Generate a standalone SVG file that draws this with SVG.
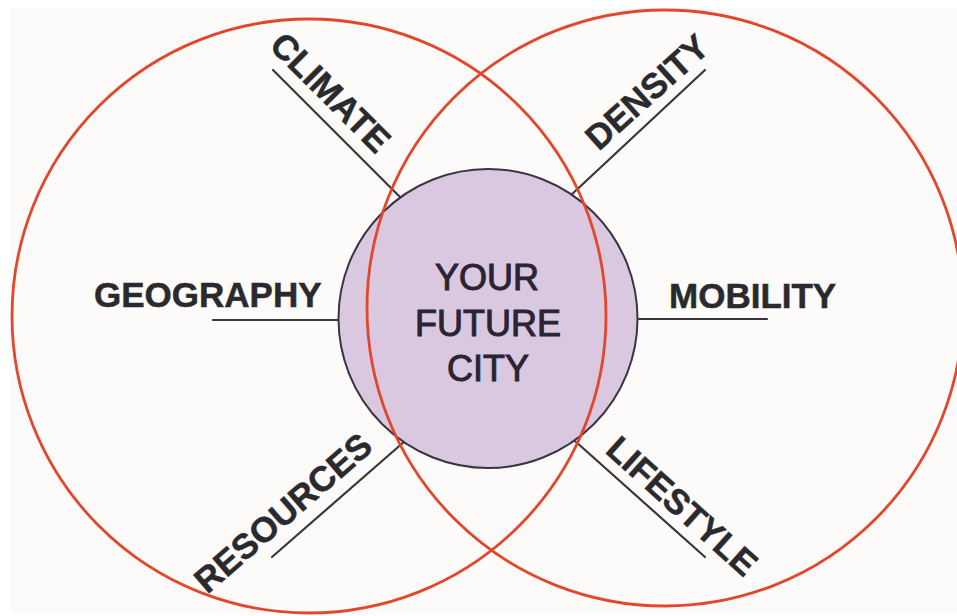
<svg xmlns="http://www.w3.org/2000/svg" width="957" height="616" viewBox="0 0 957 616">
  <style>
    .ring { fill: none; stroke: #e2472c; stroke-width: 2.8; }
    .conn { stroke: #38383c; stroke-width: 2.2; fill: none; stroke-linecap: round; }
    .lbl { font-family: "Liberation Sans", Arial, Helvetica, sans-serif; font-weight: bold; font-size: 35px; fill: #2a2a2e; stroke: #2a2a2e; stroke-width: 0.5; }
    .ctr { font-family: "Liberation Sans", Arial, Helvetica, sans-serif; font-size: 36px; fill: #2a2430; stroke: #2a2430; stroke-width: 1; text-anchor: middle; }
  </style>
  <rect x="0" y="0" width="957" height="616" fill="#ffffff"/>
  <rect x="10" y="9" width="947" height="605" fill="#fcfbf9"/>

  <g id="connectors">
    <line class="conn" x1="273" y1="70" x2="405" y2="202"/>
    <line class="conn" x1="705" y1="70" x2="570" y2="196"/>
    <line class="conn" x1="213" y1="320" x2="345" y2="320"/>
    <line class="conn" x1="767" y1="319" x2="632" y2="319"/>
    <line class="conn" x1="272" y1="557" x2="405" y2="441"/>
    <line class="conn" x1="705" y1="557" x2="575" y2="441"/>
  </g>

  <g id="center">
    <circle cx="488" cy="318.5" r="149.5" fill="#d9c8e0" stroke="#3a3540" stroke-width="2"/>
  </g>

  <g id="sets">
    <circle id="set-left" class="ring" cx="309" cy="316" r="297"/>
    <circle id="set-right" class="ring" cx="665" cy="308" r="298"/>
  </g>

  <g id="center-label">
    <text class="ctr" x="487" y="290">YOUR</text>
    <text class="ctr" x="488" y="336">FUTURE</text>
    <text class="ctr" x="488" y="381">CITY</text>
  </g>

  <g id="climate">
    <text class="lbl" text-anchor="middle" transform="translate(322,101) rotate(45)">CLIMATE</text>
  </g>
  <g id="density">
    <text class="lbl" text-anchor="middle" transform="translate(655,101) rotate(-42)">DENSITY</text>
  </g>
  <g id="geography">
    <text class="lbl" x="94" y="307">GEOGRAPHY</text>
  </g>
  <g id="mobility">
    <text class="lbl" x="669" y="308">MOBILITY</text>
  </g>
  <g id="resources">
    <text class="lbl" text-anchor="middle" transform="translate(291,522) rotate(-41)">RESOURCES</text>
  </g>
  <g id="lifestyle">
    <text class="lbl" text-anchor="middle" transform="translate(674,515) rotate(42)">LIFESTYLE</text>
  </g>
</svg>
